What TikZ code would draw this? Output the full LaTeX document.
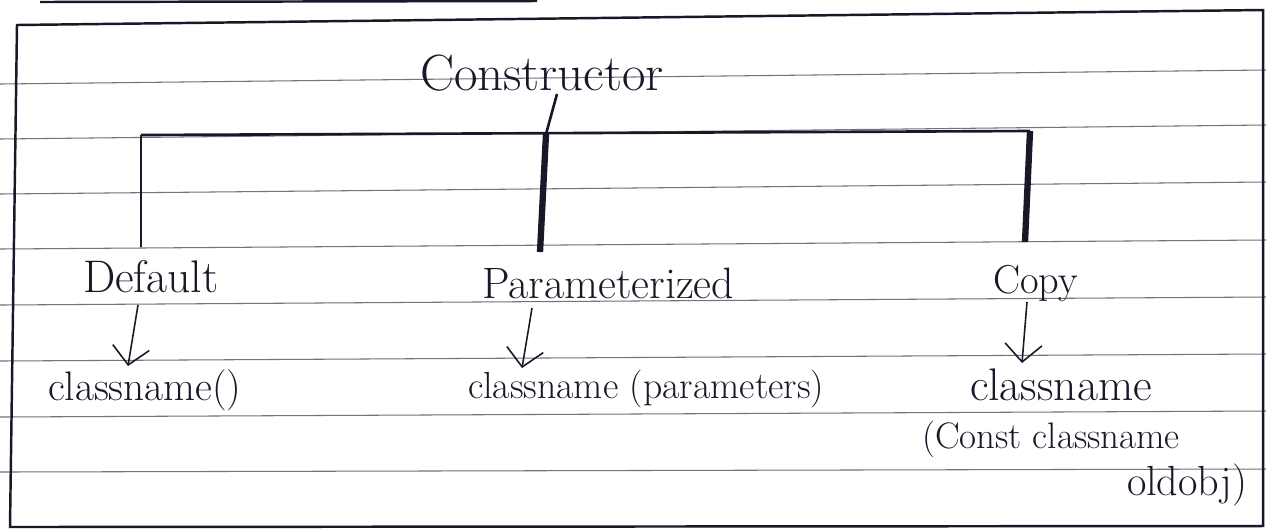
\documentclass[tikz,border=0pt]{standalone}
\usetikzlibrary{arrows.meta}
\definecolor{ink}{RGB}{24,24,40}
\definecolor{rule}{RGB}{115,115,120}
\tikzset{
  every node/.style={inner sep=0pt, outer sep=0pt, text=ink},
  fs/.style={font=\fontsize{#1}{#1}\selectfont, anchor=base west},
  ruled/.style={draw=rule, line width=0.6pt},
  frame/.style={draw=ink, line width=1.4pt},
  thinstem/.style={draw=ink, line width=1.5pt},
  thickstem/.style={draw=ink, line width=3.6pt},
  pointer/.style={draw=ink, line width=0.9pt, -{Straight Barb[length=10pt,width=21pt,line width=0.9pt]}}
}
\begin{document}
\begin{tikzpicture}[x=0.02cm,y=-0.02cm]
\useasboundingbox (0,0) rectangle (1266,529);
\fill[white] (0,0) rectangle (1266,529);
% notebook rules
\foreach \l/\r in {84/70,139/125,194/182,249/240,305/297,361/354,417/411,472/469}
  \draw[ruled] (0,\l) -- (1266,\r);
% stray top line
\draw[frame] (40,2) -- (537,1);
% frame
\draw[frame] (17,25) -- (1263,10) -- (1263,526) -- (10,527) -- cycle;

% nodes
\node[fs=29] (root) at (420,90) {Constructor};
\node[fs=26] (def) at (83,292) {Default};
\node[fs=25] (par) at (482,298) {Parameterized};
\node[fs=23] (cpy) at (993,293) {Copy};
\node[fs=23.5] (c1) at (48,400) {classname()};
\node[fs=21.5] (c2) at (468,398) {classname (parameters)};
\node[fs=26] (c3) at (970,400) {classname};
\node[fs=21] (c4) at (922,448) {(Const classname};
\node[fs=24] (c5) at (1127,495) {oldobj)};

% tree
\coordinate (barL) at (141,135);
\coordinate (barM) at (546,134);
\coordinate (barR) at (1030,131);
\draw[thinstem] (barL) -- (barR);
\draw[thinstem] (barL) -- (141,247);
\draw[thinstem] (557,94) -- (barM);
\draw[thickstem] (barM) -- (540,252);
\draw[thickstem] (barR) -- (1025,242);

% arrows
\coordinate (a1s) at (138,305); \coordinate (a1e) at (128,366);
\coordinate (a2s) at (532,308); \coordinate (a2e) at (522,368);
\coordinate (a3s) at (1027,302); \coordinate (a3e) at (1022,363);
\draw[pointer] (a1s) -- (a1e);
\draw[pointer] (a2s) -- (a2e);
\draw[pointer] (a3s) -- (a3e);
\end{tikzpicture}
\end{document}
